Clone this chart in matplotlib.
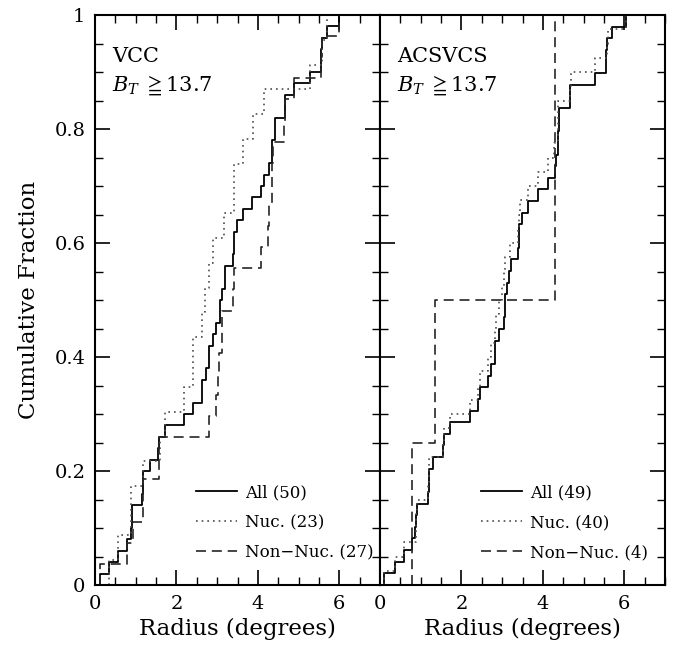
import numpy as np
import matplotlib
matplotlib.use('Agg')
import matplotlib.pyplot as plt
from matplotlib.ticker import MultipleLocator, FixedLocator, FixedFormatter

# radii (degrees) of galaxies
vcc_all = [0.13, 0.34, 0.57, 0.79, 0.88, 0.90, 0.92, 1.16, 1.18, 1.18,
           1.34, 1.54, 1.57, 1.71, 2.18, 2.40, 2.62, 2.63, 2.73, 2.79,
           2.79, 2.89, 2.96, 3.07, 3.07, 3.12, 3.19, 3.19, 3.40, 3.41,
           3.42, 3.49, 3.63, 3.86, 4.07, 4.15, 4.27, 4.35, 4.35, 4.42,
           4.42, 4.66, 4.66, 4.88, 5.29, 5.55, 5.56, 5.57, 5.69, 5.99]
vcc_nuc = [0.34, 0.57, 0.89, 0.89, 1.18, 1.60, 1.71, 2.18, 2.41, 2.41,
           2.63, 2.71, 2.81, 2.89, 3.16, 3.41, 3.41, 3.64, 3.88, 4.15,
           5.29, 5.58, 5.69]
vcc_non = [0.13, 0.79, 0.93, 1.17, 1.18, 1.56, 1.58, 2.79, 2.96, 3.03,
           3.05, 3.11, 3.13, 3.40, 3.42, 4.07, 4.26, 4.28, 4.34, 4.35,
           4.36, 4.64, 4.66, 4.88, 5.55, 5.57, 5.99]

acs_all = [0.11, 0.38, 0.60, 0.79, 0.87, 0.89, 0.91, 1.19, 1.20, 1.21,
           1.31, 1.54, 1.58, 1.72, 2.20, 2.40, 2.46, 2.65, 2.73, 2.83,
           2.83, 2.93, 3.04, 3.06, 3.08, 3.11, 3.16, 3.21, 3.40, 3.41,
           3.42, 3.49, 3.63, 3.88, 4.12, 4.29, 4.32, 4.37, 4.37, 4.40,
           4.40, 4.67, 4.67, 5.29, 5.55, 5.56, 5.57, 5.70, 6.03]
acs_nuc = [0.11, 0.38, 0.60, 0.88, 0.89, 0.90, 1.19, 1.20, 1.21, 1.54,
           1.58, 1.72, 2.22, 2.40, 2.46, 2.65, 2.73, 2.82, 2.84, 2.93,
           3.00, 3.05, 3.07, 3.20, 3.40, 3.42, 3.45, 3.63, 3.88, 4.12,
           4.27, 4.36, 4.37, 4.38, 4.66, 4.68, 5.29, 5.58, 5.60, 6.03]
acs_non = [0.78, 1.34, 4.29, 4.29]

panels = [
    ('VCC', vcc_all, vcc_nuc, vcc_non),
    ('ACSVCS', acs_all, acs_nuc, acs_non),
]
ytick_vals = [0, 0.2, 0.4, 0.6, 0.8, 1.0]
ytick_text = ['0', '0.2', '0.4', '0.6', '0.8', '1']

plt.rcParams['font.family'] = ['DejaVu Serif', 'DejaVu Sans']
plt.rcParams['mathtext.fontset'] = 'dejavuserif'
plt.rcParams['axes.linewidth'] = 1.5


def cumulative(ax, radii, **kw):
    r = np.sort(np.asarray(radii))
    frac = np.arange(1, len(r) + 1) / len(r)
    x = np.r_[r[0], r]
    y = np.r_[0.0, frac]
    return ax.step(x, y, where='post', **kw)[0]


fig = plt.figure(figsize=(6.73, 6.53), dpi=100)
axw, axh = 285 / 673, 570 / 653
bottom = 68 / 653
axes = [fig.add_axes([95 / 673, bottom, axw, axh]),
        fig.add_axes([380 / 673, bottom, axw, axh])]

for i, (ax, (name, r_all, r_nuc, r_non)) in enumerate(zip(axes, panels)):
    l1 = cumulative(ax, r_all, color='black', lw=1.3, ls='-')
    l2 = cumulative(ax, r_nuc, color='0.3', lw=1.2, ls=(0, (1, 2.4)))
    l3 = cumulative(ax, r_non, color='0.15', lw=1.2, ls=(0, (6, 3.5)))

    ax.set_xlim(0, 7)
    ax.set_ylim(0, 1)
    ax.xaxis.set_major_locator(MultipleLocator(2))
    ax.xaxis.set_minor_locator(MultipleLocator(0.5))
    ax.yaxis.set_major_locator(FixedLocator(ytick_vals))
    ax.yaxis.set_major_formatter(FixedFormatter(ytick_text))
    ax.yaxis.set_minor_locator(MultipleLocator(0.05))
    ax.tick_params(which='both', direction='in', top=True, right=True,
                   labelsize=14)
    ax.tick_params(which='major', length=11, width=1.2, pad=7)
    ax.tick_params(which='minor', length=5.5, width=1.0)
    ax.set_xlabel('Radius (degrees)', fontsize=16.5, labelpad=4)
    if i == 0:
        ax.set_ylabel('Cumulative Fraction', fontsize=16.5, labelpad=10)
    else:
        ax.tick_params(labelleft=False)

    ax.text(0.06, 0.927, name, transform=ax.transAxes, fontsize=15,
            va='center', ha='left')
    ax.text(0.06, 0.877, r'$B_T\;{\geqq}13.7$', transform=ax.transAxes,
            fontsize=15, va='center', ha='left')

    labels = ['All (%d)' % len(r_all), 'Nuc. (%d)' % len(r_nuc),
              'Non\u2212Nuc. (%d)' % len(r_non)]
    ax.legend([l1, l2, l3], labels, loc='lower left',
              bbox_to_anchor=(0.33, 0.03), frameon=False, fontsize=12,
              handlelength=2.5, handletextpad=0.45, labelspacing=0.78,
              borderaxespad=0)

fig.savefig('out.png', dpi=100)
